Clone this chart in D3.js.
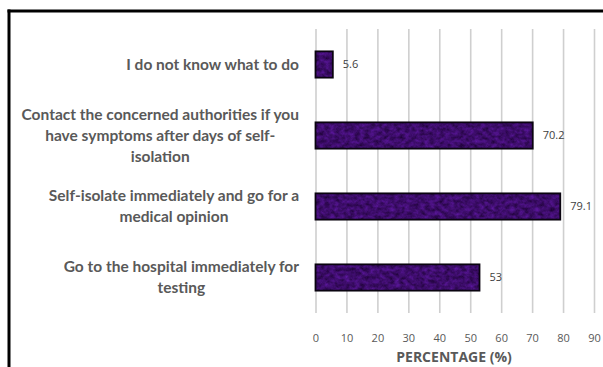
<!DOCTYPE html>
<html>
<head>
<meta charset="utf-8">
<script src="https://cdn.jsdelivr.net/npm/d3@7"></script>
<style>
  html, body { margin: 0; padding: 0; background: #fff; overflow: hidden; }
  #wrap { position: relative; width: 603px; height: 367px; }
  svg { display: block; position: absolute; left: 0; top: 0; }
</style>
</head>
<body>
<div id="wrap"><svg id="chart" width="603" height="367" viewBox="0 0 603 367"></svg></div>
<script>
// Responses: what people would do if they suspected COVID-19 symptoms
const categories = [
  ["I do not know what to do"],
  ["Contact the concerned authorities if you", "have symptoms after days of self-", "isolation"],
  ["Self-isolate immediately and go for a", "medical opinion"],
  ["Go to the hospital immediately for", "testing"]
];
const values = [5.6, 70.2, 79.1, 53];
const ticks = [0, 10, 20, 30, 40, 50, 60, 70, 80, 90];
const axisTitle = "PERCENTAGE (%)";

const svg = d3.select("#chart");
const W = 603, H = 367;
const plot = { left: 315.5, right: 594, top: 29, bottom: 313 };

const x = d3.scaleLinear().domain([0, 90]).range([plot.left, plot.right]);
const y = d3.scaleBand()
  .domain(d3.range(categories.length))
  .range([plot.top, plot.bottom])
  .paddingInner(0.63)
  .paddingOuter(0.315);

// Mottled dark purple fill for the bars
const defs = svg.append("defs");
const f = defs.append("filter").attr("id", "mottle")
  .attr("x", 0).attr("y", 0).attr("width", 1).attr("height", 1)
  .attr("filterUnits", "objectBoundingBox")
  .attr("color-interpolation-filters", "sRGB");
f.append("feTurbulence").attr("type", "fractalNoise")
  .attr("baseFrequency", "0.2 0.25").attr("numOctaves", 3).attr("seed", 7).attr("result", "n");
f.append("feColorMatrix").attr("in", "n").attr("type", "matrix")
  .attr("values", "0.30 0 0 0 0.09  0.10 0 0 0 0.00  0.50 0 0 0 0.17  0 0 0 0 1")
  .attr("result", "c");
f.append("feComposite").attr("in", "c").attr("in2", "SourceGraphic").attr("operator", "in");

// Outer frame: top and left edges (the rest lies past the window)
const frame = svg.append("g").attr("stroke", "#000").attr("stroke-width", 3);
frame.append("line").attr("x1", 7.5).attr("x2", W).attr("y1", 11).attr("y2", 11);
frame.append("line").attr("x1", 9).attr("x2", 9).attr("y1", 9.5).attr("y2", H);

// Vertical gridlines
const xAxis = d3.axisBottom(x).tickValues(ticks).tickSize(plot.bottom - plot.top).tickFormat("");
const gGrid = svg.append("g").attr("transform", `translate(0,${plot.top})`).call(xAxis);
gGrid.select(".domain").remove();
gGrid.selectAll(".tick line").attr("stroke", "#cfcfcf").attr("stroke-width", 1.6);

// Tick labels
const gLab = svg.append("g").attr("transform", `translate(0,${plot.bottom})`)
  .call(d3.axisBottom(x).tickValues(ticks).tickSize(0).tickPadding(0).tickFormat(d3.format("d")));
gLab.select(".domain").remove();
gLab.selectAll(".tick text")
  .attr("y", 25).attr("dy", "0.35em")
  .attr("font-family", "Open Sans, sans-serif").attr("font-size", 11)
  .attr("fill", "#595959");

// Axis title
svg.append("text")
  .attr("x", 454).attr("y", 357).attr("dy", "0.35em")
  .attr("text-anchor", "middle")
  .attr("font-family", "Open Sans, sans-serif").attr("font-weight", 700).attr("font-size", 14)
  .attr("fill", "#595959")
  .text(axisTitle);

// Bars
const bars = svg.append("g");
bars.selectAll("rect.fill").data(values).join("rect")
  .attr("class", "fill")
  .attr("x", x(0)).attr("y", (d, i) => y(i))
  .attr("width", d => x(d) - x(0)).attr("height", y.bandwidth())
  .attr("fill", "#3c0f68").attr("filter", "url(#mottle)");
bars.selectAll("rect.edge").data(values).join("rect")
  .attr("class", "edge")
  .attr("x", x(0)).attr("y", (d, i) => y(i))
  .attr("width", d => x(d) - x(0)).attr("height", y.bandwidth())
  .attr("fill", "none").attr("stroke", "#0a0410").attr("stroke-width", 1.8);

// Value labels
svg.append("g").selectAll("text").data(values).join("text")
  .attr("x", d => x(d) + 10).attr("y", (d, i) => y(i) + y.bandwidth() / 2)
  .attr("dy", "0.35em")
  .attr("font-family", "Open Sans, sans-serif").attr("font-size", 11)
  .attr("fill", "#404040")
  .text(d => d);

// Category labels: lines centred within a block that is right-aligned
const lineH = 21;
const rightEdge = 299;
const gCat = svg.append("g");
categories.forEach((lines, i) => {
  const g = gCat.append("g");
  const cy = y(i) + y.bandwidth() / 2;
  const texts = lines.map((ln, k) => g.append("text")
    .attr("y", cy + (k - (lines.length - 1) / 2) * lineH)
    .attr("dy", "0.35em")
    .attr("text-anchor", "middle")
    .attr("font-family", "Lato, sans-serif").attr("font-weight", 700).attr("font-size", 15.5)
    .attr("fill", "#595959")
    .text(ln));
  const maxW = d3.max(texts, t => t.node().getComputedTextLength());
  texts.forEach(t => t.attr("x", rightEdge - maxW / 2));
});
</script>
</body>
</html>
